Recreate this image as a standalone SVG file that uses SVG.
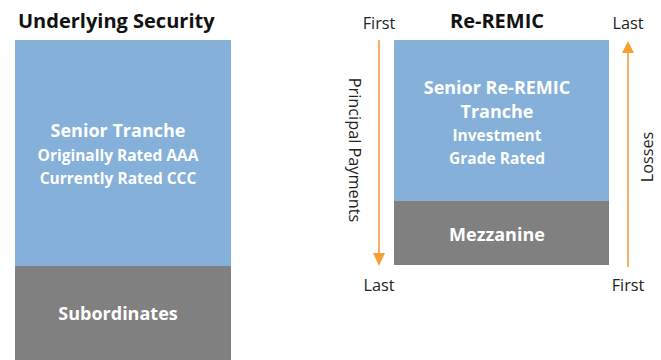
<svg xmlns="http://www.w3.org/2000/svg" width="661" height="360" viewBox="0 0 661 360">
<defs>
<style>
text{font-family:"Open Sans","Noto Sans","Liberation Sans",sans-serif}
.title{font-size:20px;font-weight:bold;fill:#111}
.lbl{font-size:16.3px;fill:#222}
.big{font-size:18px;font-weight:bold;fill:#fff;text-anchor:middle}
.sm{font-size:15.5px;font-weight:bold;fill:#fff;text-anchor:middle}
.blue{fill:#85B0D9}
.grey{fill:#808080}
.arr{stroke:#F7B06A;stroke-width:2;fill:none}
</style>
</defs>
<rect width="661" height="360" fill="#fff"/>
<text class="title" x="18" y="28">Underlying Security</text>
<text class="title" x="497" y="28" text-anchor="middle">Re-REMIC</text>
<g id="senior-tranche">
<rect class="blue" x="15" y="40" width="216" height="226"/>
<text class="big" x="118" y="137">Senior Tranche</text>
<text class="sm" x="118" y="161">Originally Rated AAA</text>
<text class="sm" x="118" y="184">Currently Rated CCC</text>
</g>
<g id="subordinates">
<rect class="grey" x="15" y="266" width="216" height="94"/>
<text class="big" x="118" y="320">Subordinates</text>
</g>
<g id="senior-reremic">
<rect class="blue" x="394" y="40" width="215" height="161"/>
<text class="big" x="497" y="94">Senior Re-REMIC</text>
<text class="big" x="497" y="118">Tranche</text>
<text class="sm" x="497" y="141">Investment</text>
<text class="sm" x="497" y="164">Grade Rated</text>
</g>
<g id="mezzanine">
<rect class="grey" x="394" y="201" width="215" height="64"/>
<text class="big" x="497" y="241">Mezzanine</text>
</g>
<g id="connectors">
<line class="arr" x1="379" y1="40" x2="379" y2="255"/>
<polygon points="373,253 385,253 379,266" fill="#F5A030"/>
<line class="arr" x1="628" y1="52" x2="628" y2="267"/>
<polygon points="622,53 634,53 628,41" fill="#F5A030"/>
</g>
<text class="lbl" x="379" y="29" text-anchor="middle">First</text>
<text class="lbl" x="628" y="29" text-anchor="middle">Last</text>
<text class="lbl" x="379" y="291" text-anchor="middle">Last</text>
<text class="lbl" x="628" y="291" text-anchor="middle">First</text>
<text class="lbl" transform="translate(349,150) rotate(90)" text-anchor="middle">Principal Payments</text>
<text class="lbl" transform="translate(653,157) rotate(-90)" text-anchor="middle">Losses</text>
</svg>
